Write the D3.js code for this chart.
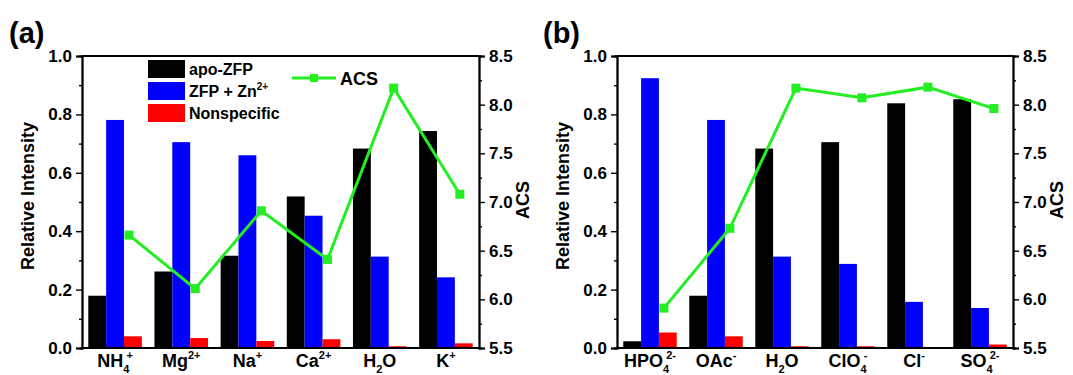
<!DOCTYPE html>
<html><head><meta charset="utf-8">
<script src="https://cdn.jsdelivr.net/npm/d3@7"></script>
<style>
body{margin:0;background:#fff;}
svg text{font-family:"Liberation Sans",Arial,sans-serif;font-weight:bold;fill:#000;}
</style></head>
<body><svg id="chart" width="1073" height="375"></svg>
<script>
// ---- data ----
const seriesNames = ["apo-ZFP", "ZFP + Zn", "Nonspecific"];
const seriesColors = ["#000000", "#0000ff", "#ff0000"];
const acsColor = "#22ee22";

// labels: [base, subscript, superscript]
const catsA = [["NH","4","+"],["Mg","","2+"],["Na","","+"],["Ca","","2+"],["H","2","O"],["K","","+"]];
const apoA = [0.179, 0.262, 0.316, 0.519, 0.683, 0.743];
const znA  = [0.781, 0.705, 0.660, 0.453, 0.313, 0.242];
const nsA  = [0.040, 0.034, 0.024, 0.030, 0.006, 0.016];
const acsA = [6.66, 6.11, 6.91, 6.41, 8.17, 7.08];

const catsB = [["HPO","4","2-"],["OAc","","-"],["H","2","O"],["ClO","4","-"],["Cl","","-"],["SO","4","2-"]];
const apoB = [0.023, 0.179, 0.683, 0.705, 0.838, 0.852];
const znB  = [0.924, 0.781, 0.313, 0.288, 0.158, 0.137];
const nsB  = [0.053, 0.040, 0.006, 0.006, 0.000, 0.012];
const acsB = [5.91, 6.73, 8.17, 8.07, 8.18, 7.96];

const leftTicks = [0, 0.2, 0.4, 0.6, 0.8, 1.0];
const rightTicks = [5.5, 6.0, 6.5, 7.0, 7.5, 8.0, 8.5];

const svg = d3.select("#chart");

function drawPanel(opt){
  const {x0, x1, y0, y1, cats, apo, zn, ns, acs, letter, letterX} = opt;
  const g = svg.append("g");
  const keys = cats.map((c,i)=>i);
  const x = d3.scaleBand().domain(keys).range([x0, x1]).paddingInner(0.19).paddingOuter(0.095);
  const xs = d3.scaleBand().domain([0,1,2]).range([0, x.bandwidth()]);
  const y = d3.scaleLinear().domain([0, 1]).range([y1, y0]);
  const yr = d3.scaleLinear().domain([5.5, 8.5]).range([y1, y0]);

  const vals = [apo, zn, ns];
  vals.forEach((arr, s) => {
    g.selectAll(null).data(arr).enter().append("rect")
      .attr("x", (d,i)=> x(i) + xs(s))
      .attr("width", xs.bandwidth())
      .attr("y", d=> y(d))
      .attr("height", d=> y(0) - y(d))
      .attr("fill", seriesColors[s]);
  });

  // frame (top and bottom lines)
  g.append("line").attr("x1",x0).attr("x2",x1).attr("y1",y0).attr("y2",y0).attr("stroke","#000").attr("stroke-width",1.8);
  g.append("line").attr("x1",x0).attr("x2",x1).attr("y1",y1).attr("y2",y1).attr("stroke","#000").attr("stroke-width",1.8);

  // left axis
  const la = d3.axisLeft(y).tickValues(leftTicks).tickFormat(d3.format(".1f")).tickSize(6).tickPadding(4);
  g.append("g").attr("transform",`translate(${x0},0)`).call(la);
  const lm = d3.axisLeft(y).tickValues([0.1,0.3,0.5,0.7,0.9]).tickFormat("").tickSize(3);
  g.append("g").attr("transform",`translate(${x0},0)`).call(lm);
  // right axis
  const ra = d3.axisRight(yr).tickValues(rightTicks).tickFormat(d3.format(".1f")).tickSize(6).tickPadding(4);
  g.append("g").attr("transform",`translate(${x1},0)`).call(ra);
  const rm = d3.axisRight(yr).tickValues([5.75,6.25,6.75,7.25,7.75,8.25]).tickFormat("").tickSize(3);
  g.append("g").attr("transform",`translate(${x1},0)`).call(rm);
  g.selectAll(".domain").attr("stroke","#000").attr("stroke-width",1.8);
  g.selectAll(".tick line").attr("stroke","#000").attr("stroke-width",1.4);
  g.selectAll(".tick text").style("font-size","17px").style("font-family","Liberation Sans, Arial, sans-serif").style("font-weight","bold").attr("fill","#000");

  // ACS line
  const lx = i => x(i) + x.bandwidth()*0.76;
  const line = d3.line().x((d,i)=>lx(i)).y(d=>yr(d));
  g.append("path").datum(acs).attr("d", line).attr("fill","none").attr("stroke",acsColor).attr("stroke-width",3);
  g.selectAll(null).data(acs).enter().append("rect")
    .attr("x",(d,i)=>lx(i)-4.5).attr("y",d=>yr(d)-4.5).attr("width",9).attr("height",9).attr("fill",acsColor);

  // x labels
  cats.forEach((c,i)=>{
    const cx = x(i) + x.bandwidth()/2;
    const t = g.append("text").attr("x", cx).attr("y", y1+19).attr("text-anchor","middle").style("font-size","18px");
    t.append("tspan").text(c[0]);
    if (c[1]) {
      t.append("tspan").attr("dy", 6).style("font-size","11px").text(c[1]);
      if (c[1] === "2" && c[2] === "O") {
        t.append("tspan").attr("dy", -6).text(c[2]);
      } else if (c[2]) {
        t.append("tspan").attr("dx", -3).attr("dy", -14).style("font-size","11px").text(c[2]);
      }
    } else if (c[2]) {
      t.append("tspan").attr("dy", -8).style("font-size","11px").text(c[2]);
    }
  });

  // axis titles
  g.append("text").attr("transform",`translate(${x0-48},${(y0+y1)/2-6}) rotate(-90)`).attr("text-anchor","middle").style("font-size","18px").text("Relative Intensity");
  g.append("text").attr("transform",`translate(${x1+50},${(y0+y1)/2-2}) rotate(-90)`).attr("text-anchor","middle").style("font-size","18px").text("ACS");

  // panel letter
  g.append("text").attr("x", letterX).attr("y", 43).style("font-size","29px").text(letter);
}

drawPanel({x0:82, x1:479, y0:56, y1:348, cats:catsA, apo:apoA, zn:znA, ns:nsA, acs:acsA, letter:"(a)", letterX:9});
drawPanel({x0:617, x1:1013, y0:56, y1:348, cats:catsB, apo:apoB, zn:znB, ns:nsB, acs:acsB, letter:"(b)", letterX:543});

// legend (panel a)
const leg = svg.append("g");
const legY = [60, 82, 104];
seriesNames.forEach((n,i)=>{
  leg.append("rect").attr("x",148).attr("y",legY[i]).attr("width",37).attr("height",18).attr("fill",seriesColors[i]);
  const t = leg.append("text").attr("x",189).attr("y",legY[i]+15).style("font-size","16px").text(n);
  if (i===1) t.append("tspan").attr("dy",-7).style("font-size","10px").text("2+");
});
leg.append("line").attr("x1",292).attr("x2",336).attr("y1",78).attr("y2",78).attr("stroke",acsColor).attr("stroke-width",3);
leg.append("rect").attr("x",310).attr("y",74).attr("width",8).attr("height",8).attr("fill",acsColor);
leg.append("text").attr("x",340).attr("y",84.5).style("font-size","18px").text("ACS");
</script></body></html>
